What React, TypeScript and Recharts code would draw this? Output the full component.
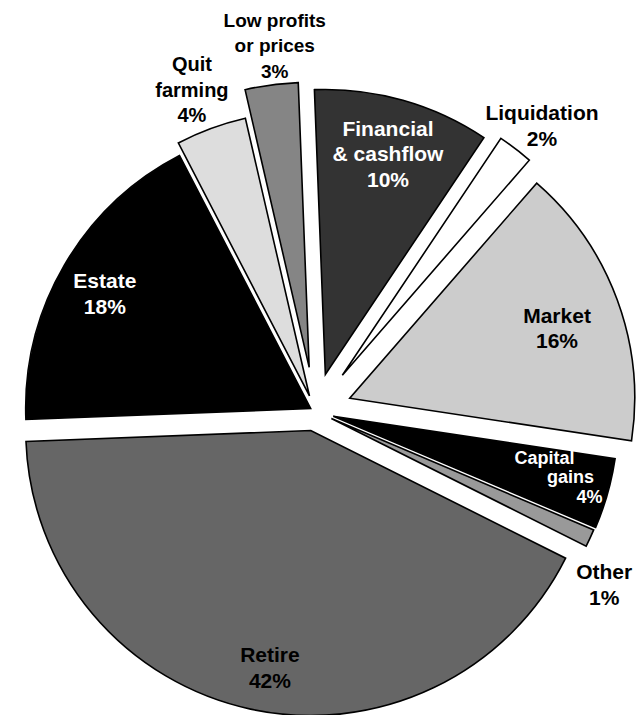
import React from "react";
import { PieChart, Pie, Cell } from "recharts";

// ---- data ----
const categories = [
  "Financial & cashflow",
  "Liquidation",
  "Market",
  "Capital gains",
  "Other",
  "Retire",
  "Estate",
  "Quit farming",
  "Low profits or prices",
];
const labelLines = [
  ["Financial", "& cashflow"],
  ["Liquidation"],
  ["Market"],
  ["Capital", "gains"],
  ["Other"],
  ["Retire"],
  ["Estate"],
  ["Quit", "farming"],
  ["Low profits", "or prices"],
];
const shares = [10, 2, 16, 4, 1, 42, 18, 4, 3];

// ---- styles ----
const fills = ["#333333", "#ffffff", "#cccccc", "#000000", "#999999", "#666666", "#000000", "#dddddd", "#858585"];
const labelColors = ["#ffffff", "#000000", "#000000", "#ffffff", "#000000", "#000000", "#ffffff", "#000000", "#000000"];
const explode = [38, 45, 37, 19, 18, 20, 5, 16, 44];
const labelRadius = [230, 320, 219, 243, 319, 240, 236, 328, 324];
const labelAngleShift = [0, 1.2, 1.4, -1.2, 6.4, -2.4, -0.9, -0.8, 1.5];
const labelFontSize = [21, 21, 21, 18, 21, 21, 21, 20, 19];
const labelLineDx: (number[] | null)[] = [null, null, null, [-24, 2, 21], null, null, null, null, null];

const W = 641;
const H = 715;
const CX = 315;
const CY = 411;
const R = 285;
const START = 92.2;
const END = START - 360;
const RAD = Math.PI / 180;

const data = categories.map((name, i) => ({ name, value: shares[i] }));
const total = shares.reduce((a, b) => a + b, 0);

function midAngle(i: number) {
  let cum = 0;
  for (let k = 0; k < i; k++) cum += shares[k];
  return START - (360 * (cum + shares[i] / 2)) / total;
}

function sliceCenter(i: number) {
  const m = midAngle(i) * RAD;
  return { x: CX + explode[i] * Math.cos(m), y: CY - explode[i] * Math.sin(m) };
}

function makeLabel(i: number) {
  return (props: any) => {
    if (props.index !== i) return null;
    const c = sliceCenter(i);
    const a = (midAngle(i) - labelAngleShift[i]) * RAD;
    const x = c.x + labelRadius[i] * Math.cos(a);
    const y = c.y - labelRadius[i] * Math.sin(a);
    const lines = [...labelLines[i], `${shares[i]}%`];
    const fs = labelFontSize[i];
    const lh = i === 3 ? 19.5 : 25.5;
    const y0 = y - ((lines.length - 1) / 2) * lh;
    const dxs = labelLineDx[i];
    return (
      <text
        key={`lbl-${i}`}
        textAnchor="middle"
        dominantBaseline="central"
        fill={labelColors[i]}
        stroke="none"
        fontFamily="'Liberation Sans', Arial, sans-serif"
        fontWeight="bold"
        fontSize={fs}
      >
        {lines.map((t, k) => (
          <tspan key={k} x={x + (dxs ? dxs[k] : 0)} y={y0 + k * lh}>
            {t}
          </tspan>
        ))}
      </text>
    );
  };
}

export default function App() {
  return (
    <div style={{ position: "absolute", left: 0, top: 0, width: W, height: H, background: "#fff" }}>
      <PieChart width={W} height={H} margin={{ top: 0, right: 0, bottom: 0, left: 0 }}>
        {data.map((_, i) => {
          const c = sliceCenter(i);
          return (
            <Pie
              key={i}
              data={data}
              dataKey="value"
              nameKey="name"
              cx={c.x}
              cy={c.y}
              innerRadius={0}
              outerRadius={R}
              startAngle={START}
              endAngle={END}
              isAnimationActive={false}
              labelLine={false}
              label={makeLabel(i)}
            >
              {data.map((__, j) =>
                j === i ? (
                  <Cell key={j} fill={fills[j]} stroke="#000000" strokeWidth={1.6} />
                ) : (
                  <Cell key={j} fill="none" stroke="none" />
                )
              )}
            </Pie>
          );
        })}
      </PieChart>
    </div>
  );
}
